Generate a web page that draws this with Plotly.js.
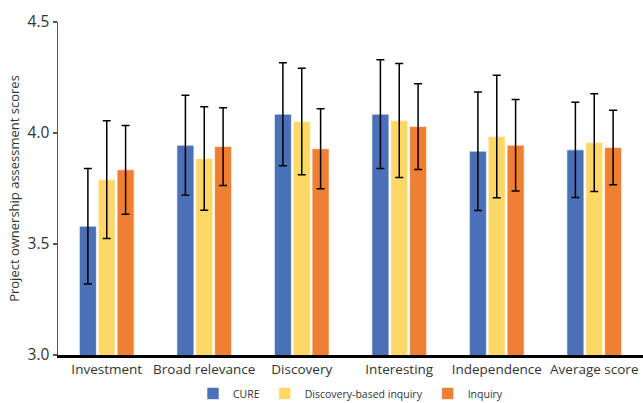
<!DOCTYPE html>
<html>
<head>
<meta charset="utf-8">
<script src="https://cdn.plot.ly/plotly-3.0.1.min.js"></script>
<style>html,body{margin:0;padding:0;background:#fff;}#chart{width:643px;height:403px;}</style>
</head>
<body>
<div id="chart"></div>
<script>
const categories = ["Investment", "Broad relevance", "Discovery", "Interesting", "Independence", "Average score"];
const seriesNames = ["CURE", "Discovery-based inquiry", "Inquiry"];
const cureValues = [3.58, 3.945, 4.085, 4.085, 3.918, 3.924];
const cureErrors = [0.26, 0.225, 0.232, 0.245, 0.267, 0.215];
const discoveryValues = [3.79, 3.885, 4.052, 4.056, 3.984, 3.957];
const discoveryErrors = [0.265, 0.233, 0.24, 0.257, 0.276, 0.22];
const inquiryValues = [3.834, 3.939, 3.929, 4.029, 3.945, 3.935];
const inquiryErrors = [0.2, 0.175, 0.18, 0.193, 0.206, 0.168];
const yTickValues = [3.0, 3.5, 4.0, 4.5];
const yTickLabels = ["3.0", "3.5", "4.0", "4.5"];

const colors = ["#4A71B7", "#FED866", "#EE7F33"];
const valuesList = [cureValues, discoveryValues, inquiryValues];
const errorsList = [cureErrors, discoveryErrors, inquiryErrors];

const traces = seriesNames.map((name, i) => ({
  type: "bar",
  name: name,
  x: categories,
  y: valuesList[i],
  base: 0,
  marker: { color: colors[i], line: { color: "rgba(255,255,255,0.6)", width: 1 } },
  error_y: { type: "data", array: errorsList[i], visible: true, color: "#000", thickness: 1.5, width: 4 }
}));

const layout = {
  width: 643,
  height: 403,
  margin: { l: 58, r: 0, t: 22, b: 48, autoexpand: false },
  paper_bgcolor: "#fff",
  plot_bgcolor: "#fff",
  font: { family: "Open Sans, Noto Sans, sans-serif", color: "#333" },
  barmode: "group",
  bargap: 0.42,
  bargroupgap: 0.1,
  showlegend: true,
  legend: {
    orientation: "h",
    x: 0.5, xanchor: "center",
    y: -0.072, yanchor: "top",
    font: { size: 10.5, color: "#333" },
    itemwidth: 30,
    tracegroupgap: 0
  },
  xaxis: {
    type: "category",
    showline: true,
    linecolor: "#000",
    linewidth: 2.5,
    ticks: "",
    tickfont: { size: 13.5, color: "#333" },
    showgrid: false,
    zeroline: false
  },
  yaxis: {
    range: [3.0, 4.5],
    tickvals: yTickValues,
    ticktext: yTickLabels,
    showline: true,
    linecolor: "#555",
    linewidth: 1.5,
    ticks: "outside",
    ticklen: 4,
    tickcolor: "#555",
    tickwidth: 1.5,
    tickfont: { size: 15.5, color: "#333" },
    showgrid: false,
    zeroline: false,
    title: { text: "Project ownership assessment scores", font: { size: 13, color: "#333" }, standoff: 5 }
  }
};

Plotly.newPlot("chart", traces, layout, { displayModeBar: false, staticPlot: true });
</script>
</body>
</html>
